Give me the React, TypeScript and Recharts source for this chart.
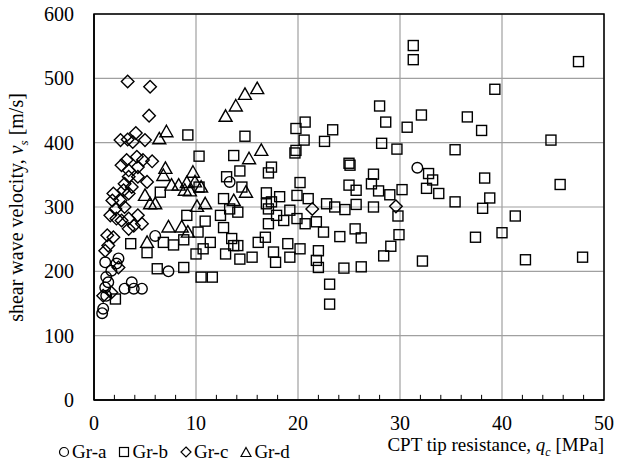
import { ScatterChart, Scatter, XAxis, YAxis, CartesianGrid, ReferenceArea, ReferenceLine } from 'recharts';

// Gr-a (circles)
const grAQc = [0.8, 0.9, 1.1, 1.2, 1.4, 1.2, 1.7, 1.1, 2.2, 2.4, 3.0, 3.7, 3.9, 4.7, 6.0, 7.3, 13.3, 31.7];
const grAVs = [135, 142, 175, 162, 183, 191, 201, 214, 212, 220, 173, 183, 173, 173, 255, 200, 339, 361];

// Gr-b (squares)
const grBQc = [
  2.1, 3.6, 5.2, 6.2, 7.8, 8.8, 6.8, 8.8, 10.0, 10.7, 9.2, 10.3, 6.5, 10.3, 9.1,
  13.7, 19.7, 17.4, 17.1, 14.3, 13.0, 14.5, 20.2, 16.9, 18.2, 19.9, 21.0, 22.8, 16.9, 17.4,
  12.7, 13.3, 14.1, 12.4, 17.1, 17.9, 18.6, 19.9, 19.2, 20.7, 21.8, 22.5, 10.9, 10.2, 12.7,
  11.4, 13.5, 13.7, 14.1, 12.9, 14.3, 15.5, 16.1, 16.8, 17.6, 17.8, 19.0, 19.2, 20.2, 22.0,
  21.8, 22.0, 10.5, 11.6, 23.1, 23.1, 17.1,
  14.8, 19.8, 20.7, 20.6, 19.8, 22.6, 23.4,
  31.3, 31.3, 28.0, 28.6, 30.7, 32.1, 28.2, 29.7, 35.4, 25.1, 25.0, 27.4, 27.2, 25.0, 25.7,
  27.9, 29.0, 30.2, 32.8, 33.2, 32.6, 33.8, 35.4, 23.6, 24.6, 25.7, 27.4, 24.1, 25.6, 26.2,
  29.8, 29.9, 29.1, 28.4, 32.2, 24.5, 26.2,
  47.5, 39.3, 36.6, 38.0, 44.8, 38.3, 45.7, 38.8, 38.1, 41.3, 37.4, 40.0, 42.3, 47.9,
];
const grBVs = [
  157, 243, 229, 204, 241, 206, 245, 249, 227, 235, 412, 379, 323, 331, 287,
  380, 384, 362, 353, 356, 347, 331, 338, 322, 316, 318, 313, 305, 305, 308,
  313, 297, 292, 287, 297, 287, 279, 282, 295, 274, 277, 261, 278, 261, 268,
  245, 251, 240, 240, 227, 219, 222, 245, 253, 230, 214, 243, 222, 235, 232,
  217, 206, 191, 191, 180, 149, 274,
  410, 422, 432, 404, 388, 402, 420,
  551, 529, 457, 432, 424, 443, 399, 390, 389, 365, 368, 351, 336, 334, 326,
  325, 319, 327, 352, 342, 329, 321, 308, 300, 296, 304, 300, 254, 266, 252,
  286, 257, 239, 224, 216, 205, 207,
  526, 483, 440, 419, 404, 345, 335, 314, 298, 286, 253, 260, 218, 222,
];

// Gr-c (diamonds)
const grCQc = [
  3.3, 5.5, 5.4, 2.6, 3.3, 4.1, 3.8, 5.0, 2.7, 3.2, 4.2, 4.8, 5.7, 3.4, 4.3,
  3.4, 4.3, 3.0, 5.2, 3.7, 2.9, 1.9, 3.4, 1.8, 2.6, 3.0, 2.1, 1.6, 2.2, 2.7,
  3.4, 4.3, 3.9, 4.7, 3.4, 1.3, 1.9, 1.4, 1.1, 0.9, 1.7, 2.4, 21.4, 29.6,
];
const grCVs = [
  495, 487, 442, 404, 405, 415, 401, 404, 365, 373, 378, 373, 371, 357, 362,
  347, 347, 336, 339, 331, 326, 321, 321, 310, 310, 300, 297, 287, 282, 279,
  282, 287, 271, 274, 266, 256, 253, 240, 232, 162, 167, 206, 297, 301,
];

// Gr-d (triangles)
const grDQc = [
  7.1, 6.4, 7.0, 6.8, 9.7, 7.6, 8.3, 9.1, 9.9, 8.9, 9.4, 5.0, 5.5, 6.0, 10.1,
  10.9, 7.3, 8.6, 5.2, 9.2, 10.5, 15.2, 16.4, 14.9, 13.7, 16.0, 14.8, 13.9, 12.9,
];
const grDVs = [
  417, 406, 360, 349, 354, 334, 334, 338, 339, 326, 325, 318, 305, 305, 301,
  305, 269, 269, 245, 261, 331, 375, 388, 323, 310, 484, 475, 457, 441,
];

const xTicks = [0, 10, 20, 30, 40, 50];
const yTicks = [0, 100, 200, 300, 400, 500, 600];
const xMinorTicks = [2, 4, 6, 8, 12, 14, 16, 18, 22, 24, 26, 28, 32, 34, 36, 38, 42, 44, 46, 48];

const toPoints = (qc: number[], vs: number[]) => qc.map((q, i) => ({ qc: q, vs: vs[i] }));

const grA = toPoints(grAQc, grAVs);
const grB = toPoints(grBQc, grBVs);
const grC = toPoints(grCQc, grCVs);
const grD = toPoints(grDQc, grDVs);

const FONT = '"Liberation Serif", "Times New Roman", serif';
const SW = 1.4;

const CircleMark = (p: any) => <circle cx={p.cx} cy={p.cy} r={5.3} fill="none" stroke="#000" strokeWidth={SW} />;
const SquareMark = (p: any) => <rect x={p.cx - 5} y={p.cy - 5} width={10} height={10} fill="none" stroke="#000" strokeWidth={SW} />;
const DiamondMark = (p: any) => (
  <path d={`M${p.cx},${p.cy - 6.3}L${p.cx + 6.3},${p.cy}L${p.cx},${p.cy + 6.3}L${p.cx - 6.3},${p.cy}Z`} fill="none" stroke="#000" strokeWidth={SW} />
);
const TriangleMark = (p: any) => (
  <path d={`M${p.cx},${p.cy - 6.5}L${p.cx + 6.5},${p.cy + 5}L${p.cx - 6.5},${p.cy + 5}Z`} fill="none" stroke="#000" strokeWidth={SW} />
);

function LegendItem({ label, children }: { label: string; children: any }) {
  return (
    <span style={{ display: 'inline-flex', alignItems: 'center', marginRight: 12 }}>
      <svg width={12} height={12} style={{ marginRight: 2 }}>{children}</svg>
      {label}
    </span>
  );
}

export default function App() {
  return (
    <div style={{ position: 'relative', width: 626, height: 468, background: '#fff', fontFamily: FONT }}>
      <style>{'body{margin:0}'}</style>
      <ScatterChart width={626} height={468} margin={{ top: 14, right: 22, left: 0, bottom: 0 }}>
        <CartesianGrid stroke="#a0a0a0" strokeWidth={1.2} />
        <XAxis
          type="number"
          dataKey="qc"
          domain={[0, 50]}
          ticks={xTicks}
          height={68}
          tickSize={0}
          tickMargin={16}
          tickLine={false}
          axisLine={{ stroke: '#000', strokeWidth: 1.5 }}
          tick={{ fill: '#000', fontSize: 20, fontFamily: FONT }}
        />
        <YAxis
          type="number"
          dataKey="vs"
          domain={[0, 600]}
          ticks={yTicks}
          width={94}
          tickSize={0}
          tickMargin={20}
          tickLine={false}
          axisLine={{ stroke: '#000', strokeWidth: 1.5 }}
          tick={{ fill: '#000', fontSize: 20, fontFamily: FONT }}
        />
        <ReferenceArea x1={0} x2={50} y1={0} y2={600} fill="none" stroke="#000" strokeWidth={1.5} />
        {xMinorTicks.map((t) => (
          <ReferenceLine key={t} segment={[{ x: t, y: 0 }, { x: t, y: 8 }]} stroke="#000" strokeWidth={1} />
        ))}
        <Scatter name="Gr-a" data={grA} shape={CircleMark} isAnimationActive={false} />
        <Scatter name="Gr-b" data={grB} shape={SquareMark} isAnimationActive={false} />
        <Scatter name="Gr-c" data={grC} shape={DiamondMark} isAnimationActive={false} />
        <Scatter name="Gr-d" data={grD} shape={TriangleMark} isAnimationActive={false} />
      </ScatterChart>

      <div style={{ position: 'absolute', left: 0, top: 0, width: 36, height: 414, display: 'flex', alignItems: 'center', justifyContent: 'center' }}>
        <div style={{ transform: 'rotate(-90deg)', whiteSpace: 'nowrap', fontSize: 20, color: '#000' }}>
          shear wave velocity, <i>v</i><sub style={{ fontSize: 13 }}><i>s</i></sub> [m/s]
        </div>
      </div>

      <div style={{ position: 'absolute', right: 22, top: 434, whiteSpace: 'nowrap', fontSize: 19, color: '#000' }}>
        CPT tip resistance, <i>q</i><sub style={{ fontSize: 12 }}><i>c</i></sub> [MPa]
      </div>

      <div style={{ position: 'absolute', left: 58, top: 441, whiteSpace: 'nowrap', fontSize: 19, color: '#000', display: 'flex', alignItems: 'center' }}>
        <LegendItem label="Gr-a"><circle cx={6} cy={6} r={4.5} fill="none" stroke="#000" strokeWidth={1.2} /></LegendItem>
        <LegendItem label="Gr-b"><rect x={1.5} y={1.5} width={9} height={9} fill="none" stroke="#000" strokeWidth={1.2} /></LegendItem>
        <LegendItem label="Gr-c"><path d="M6,1L11,6L6,11L1,6Z" fill="none" stroke="#000" strokeWidth={1.2} /></LegendItem>
        <LegendItem label="Gr-d"><path d="M6,1.5L11,10.5L1,10.5Z" fill="none" stroke="#000" strokeWidth={1.2} /></LegendItem>
      </div>
    </div>
  );
}
